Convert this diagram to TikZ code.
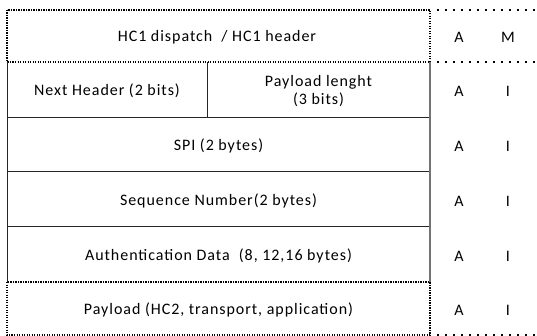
\documentclass[tikz,border=0pt]{standalone}
\usepackage{fontspec}
\setmainfont{Carlito}[LetterSpace=6]
\tikzstyle{field}=[inner sep=0pt, align=center,
    font=\fontsize{16}{18}\selectfont]
\tikzstyle{flag} = [field]
\tikzstyle{cell} = [draw=black!85, line width=1pt]
\tikzstyle{edge} = [draw=black!55, line width=1.2pt]
\tikzstyle{hcframe} = [draw=black, line width=1.5pt,
    dash pattern=on 1.2pt off 1.3pt]
\tikzstyle{sep} = [draw=black, line width=1.6pt,
    dash pattern=on 1.6pt off 6.4pt]

\begin{document}
\begin{tikzpicture}[x=1pt,y=-1pt]
    \useasboundingbox (0,0) rectangle (537,336);

    %%% compressed header / payload (dotted frames)
    \path[hcframe] (7,10) rectangle (430,62);
    \path[hcframe] (7,282) rectangle (430,335);

    %%% AH fields in between
    \path[cell] (7,62) -- (7,282);
    \path[cell] (7,118) -- (430,118);
    \path[cell] (7,172) -- (430,172);
    \path[cell] (7,227) -- (430,227);
    \path[cell] (207,62) -- (207,118);
    \path[edge] (430,62) -- (430,282);

    %%% separators of the A / M column
    \path[sep] (437,10) -- (537,10);
    \path[sep] (437,62) -- (537,62);
    \path[sep] (437,335) -- (537,335);

    \node (hc1) at (217,37) [field] {HC1 dispatch \ / HC1 header};
    \node (nexthdr) at (107,91) [field] {Next Header (2 bits)};
    \node (paylen) at (318.5,91) [field] {Payload lenght\\(3 bits)};
    \node (spi) at (218.5,146) [field] {SPI (2 bytes)};
    \node (seqno) at (218.5,201) [field] {Sequence Number(2 bytes)};
    \node (auth) at (218.5,256) [field] {Authentication Data \ (8, 12,16 bytes)};
    \node (payload) at (218.5,310) [field] {Payload (HC2, transport, application)};

    %%% A / M and A / I flags
    \node (a1) at (459,37) [flag] {A};
    \node (m1) at (508,37) [flag] {M};
    \node (a2) at (459,91) [flag] {A};
    \node (i2) at (508,91) [flag] {I};
    \node (a3) at (459,146) [flag] {A};
    \node (i3) at (508,146) [flag] {I};
    \node (a4) at (459,201) [flag] {A};
    \node (i4) at (508,201) [flag] {I};
    \node (a5) at (459,256) [flag] {A};
    \node (i5) at (508,256) [flag] {I};
    \node (a6) at (459,310) [flag] {A};
    \node (i6) at (508,310) [flag] {I};

\end{tikzpicture}
\end{document}
